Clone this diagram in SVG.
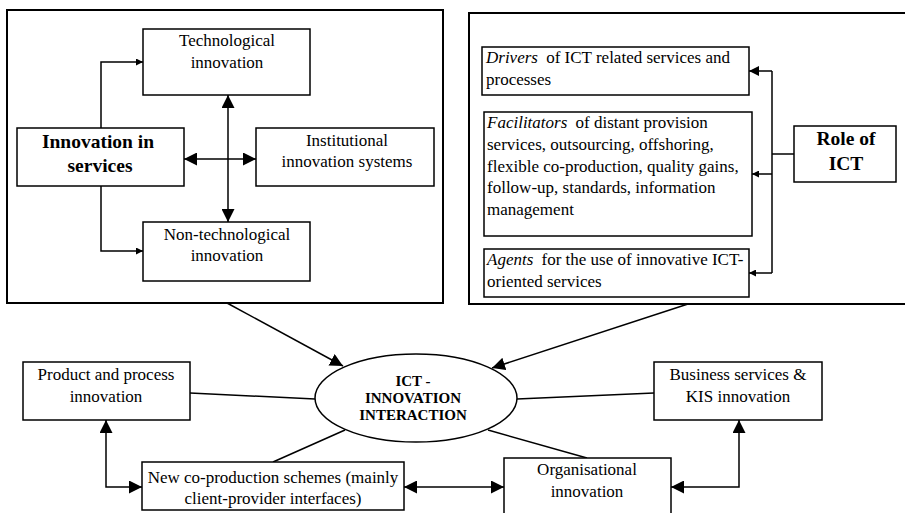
<svg xmlns="http://www.w3.org/2000/svg" width="905" height="513" viewBox="0 0 905 513">
<style>
  .box { fill: #fff; stroke: #000; stroke-width: 1.5; }
  .frame { fill: #fff; stroke: #000; stroke-width: 2; }
  .t { font-family: "Liberation Serif", "Times New Roman", serif; font-size: 17px; fill: #000; }
  .c { text-anchor: middle; }
  .b { font-weight: bold; }
  .big { font-size: 19.5px; }
  .ell { font-size: 15px; }
  .i { font-style: italic; }
  .ln { fill: none; stroke: #000; stroke-width: 1.5; }
</style>
<defs>
  <marker id="aBig" markerUnits="userSpaceOnUse" markerWidth="13" markerHeight="13" refX="12" refY="6" orient="auto-start-reverse" viewBox="0 0 12 12">
    <path d="M0,0 L12,6 L0,12 z" fill="#000"/>
  </marker>
  <marker id="aMid" markerUnits="userSpaceOnUse" markerWidth="10" markerHeight="10" refX="10" refY="5" orient="auto-start-reverse" viewBox="0 0 10 10">
    <path d="M0,0 L10,5 L0,10 z" fill="#000"/>
  </marker>
  <marker id="aSm" markerUnits="userSpaceOnUse" markerWidth="7" markerHeight="7" refX="7" refY="3.5" orient="auto-start-reverse" viewBox="0 0 7 7">
    <path d="M0,0 L7,3.5 L0,7 z" fill="#000"/>
  </marker>
</defs>
<rect width="905" height="513" fill="#fff"/>

<g id="panel-left">
  <rect class="frame" x="7" y="10" width="436" height="293"/>
</g>
<g id="panel-right">
  <rect class="frame" x="469" y="13" width="445" height="291"/>
</g>

<g id="connectors">
  <path class="ln" d="M101,128 V62 H143" marker-end="url(#aSm)"/>
  <path class="ln" d="M101,186 V251 H143" marker-end="url(#aSm)"/>
  <path class="ln" d="M228,95 V222" marker-start="url(#aBig)" marker-end="url(#aBig)"/>
  <path class="ln" d="M184,159 H256" marker-start="url(#aBig)" marker-end="url(#aBig)"/>
  <path class="ln" d="M794,154 H772"/>
  <path class="ln" d="M772,71 V273"/>
  <path class="ln" d="M772,71 H749" marker-end="url(#aMid)"/>
  <path class="ln" d="M772,174 H752" marker-end="url(#aSm)"/>
  <path class="ln" d="M772,273 H749" marker-end="url(#aSm)"/>
  <path class="ln" d="M227,303 L343,366" marker-end="url(#aBig)"/>
  <path class="ln" d="M688,304 L492,368" marker-end="url(#aBig)"/>
  <path class="ln" d="M190,393 L315,399"/>
  <path class="ln" d="M517,399 L654,393"/>
  <path class="ln" d="M345,430 L273,462"/>
  <path class="ln" d="M488,430 L587,458"/>
  <path class="ln" d="M106,420 V487 H142" marker-start="url(#aBig)" marker-end="url(#aBig)"/>
  <path class="ln" d="M404,487 H504" marker-start="url(#aBig)" marker-end="url(#aBig)"/>
  <path class="ln" d="M671,487 H739 V420" marker-start="url(#aBig)" marker-end="url(#aBig)"/>
</g>

<g id="technological">
  <rect class="box" x="143" y="29" width="167" height="66"/>
  <text class="t c" x="227" y="46">Technological</text>
  <text class="t c" x="227" y="68">innovation</text>
</g>
<g id="innovation-services">
  <rect class="box" x="17" y="128" width="167" height="58"/>
  <text class="t c b big" x="98" y="148">Innovation in</text>
  <text class="t c b big" x="100" y="172">services</text>
</g>
<g id="institutional">
  <rect class="box" x="256" y="128" width="178" height="58"/>
  <text class="t c" x="347" y="146">Institutional</text>
  <text class="t c" x="347" y="167">innovation systems</text>
</g>
<g id="non-technological">
  <rect class="box" x="143" y="222" width="167" height="59"/>
  <text class="t c" x="227" y="240">Non-technological</text>
  <text class="t c" x="227" y="261">innovation</text>
</g>

<g id="drivers">
  <rect class="box" x="482" y="47" width="267" height="48"/>
  <text class="t" x="486" y="63"><tspan class="i">Drivers</tspan><tspan dx="4"> of ICT related services and</tspan></text>
  <text class="t" x="486" y="85">processes</text>
</g>
<g id="facilitators">
  <rect class="box" x="484" y="112" width="268" height="124"/>
  <text class="t" x="487" y="128"><tspan class="i">Facilitators</tspan><tspan dx="4"> of distant provision</tspan></text>
  <text class="t" x="487" y="150">services, outsourcing, offshoring,</text>
  <text class="t" x="487" y="172">flexible co-production, quality gains,</text>
  <text class="t" x="487" y="193">follow-up, standards, information</text>
  <text class="t" x="487" y="215">management</text>
</g>
<g id="agents">
  <rect class="box" x="484" y="249" width="265" height="48"/>
  <text class="t" x="487" y="265"><tspan class="i">Agents</tspan><tspan dx="4"> for the use of innovative ICT-</tspan></text>
  <text class="t" x="487" y="287">oriented services</text>
</g>
<g id="role-ict">
  <rect class="box" x="794" y="126" width="102" height="56"/>
  <text class="t c b big" x="846" y="145">Role of</text>
  <text class="t c b big" x="846" y="170">ICT</text>
</g>

<g id="ict-innovation-interaction">
  <ellipse class="box" cx="416" cy="398" rx="101" ry="44"/>
  <text class="t c b ell" x="413" y="386">ICT -</text>
  <text class="t c b ell" x="413" y="403">INNOVATION</text>
  <text class="t c b ell" x="413" y="420">INTERACTION</text>
</g>
<g id="product-process">
  <rect class="box" x="23" y="362" width="167" height="58"/>
  <text class="t c" x="106" y="380">Product and process</text>
  <text class="t c" x="106" y="402">innovation</text>
</g>
<g id="business-services">
  <rect class="box" x="654" y="362" width="168" height="58"/>
  <text class="t c" x="738" y="380">Business services &amp;</text>
  <text class="t c" x="738" y="402">KIS innovation</text>
</g>
<g id="new-coproduction">
  <rect class="box" x="142" y="462" width="262" height="48"/>
  <text class="t c" x="273" y="483">New co-production schemes (mainly</text>
  <text class="t c" x="273" y="504">client-provider interfaces)</text>
</g>
<g id="organisational">
  <rect class="box" x="504" y="458" width="167" height="70"/>
  <text class="t c" x="587" y="475">Organisational</text>
  <text class="t c" x="587" y="497">innovation</text>
</g>
</svg>
